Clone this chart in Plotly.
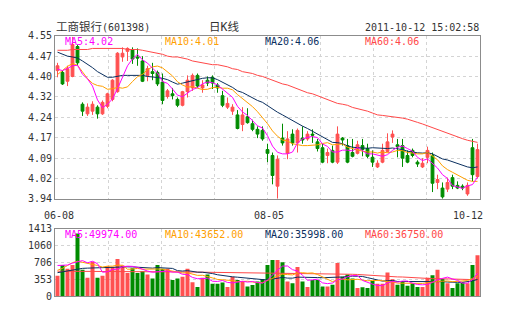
import numpy as np
import plotly.graph_objects as go

# ---- ICBC (601398) daily bars, 2011-06-08 .. 2011-10-12 ----
opens = [4.420, 4.413, 4.380, 4.398, 4.510, 4.294, 4.258, 4.268, 4.283, 4.258,
         4.286, 4.312, 4.341, 4.471, 4.492, 4.499, 4.471, 4.456, 4.402, 4.416,
         4.413, 4.377, 4.323, 4.333, 4.312, 4.290, 4.341, 4.355, 4.402, 4.355,
         4.384, 4.395, 4.366, 4.326, 4.283, 4.268, 4.254, 4.218, 4.247, 4.221,
         4.200, 4.196, 4.124, 4.102, 3.987, 4.167, 4.110, 4.182, 4.149, 4.167,
         4.164, 4.182, 4.153, 4.131, 4.102, 4.121, 4.077, 4.167, 4.139, 4.113,
         4.110, 4.139, 4.128, 4.095, 4.059, 4.077, 4.117, 4.171, 4.142, 4.139,
         4.102, 4.121, 4.077, 4.059, 4.095, 4.102, 4.001, 3.980, 3.976, 4.019,
         3.990, 3.987, 3.958, 4.131, 4.023]
highs = [4.449, 4.420, 4.438, 4.546, 4.518, 4.301, 4.297, 4.305, 4.290, 4.308,
         4.337, 4.388, 4.489, 4.507, 4.507, 4.507, 4.503, 4.474, 4.438, 4.449,
         4.420, 4.409, 4.351, 4.355, 4.319, 4.344, 4.402, 4.409, 4.409, 4.384,
         4.398, 4.402, 4.373, 4.344, 4.319, 4.294, 4.272, 4.283, 4.279, 4.236,
         4.211, 4.211, 4.146, 4.113, 4.102, 4.221, 4.193, 4.200, 4.203, 4.211,
         4.193, 4.200, 4.164, 4.146, 4.128, 4.139, 4.211, 4.171, 4.164, 4.164,
         4.157, 4.164, 4.146, 4.121, 4.084, 4.146, 4.185, 4.196, 4.164, 4.164,
         4.121, 4.128, 4.084, 4.092, 4.135, 4.113, 4.030, 4.001, 4.019, 4.030,
         4.005, 3.994, 4.001, 4.164, 4.146]
lows = [4.395, 4.366, 4.362, 4.395, 4.438, 4.250, 4.250, 4.254, 4.240, 4.254,
        4.279, 4.305, 4.337, 4.453, 4.456, 4.445, 4.438, 4.377, 4.380, 4.384,
        4.362, 4.294, 4.315, 4.312, 4.283, 4.286, 4.319, 4.344, 4.355, 4.337,
        4.362, 4.351, 4.337, 4.283, 4.276, 4.254, 4.200, 4.193, 4.221, 4.193,
        4.167, 4.157, 4.077, 3.994, 3.940, 4.139, 4.088, 4.139, 4.113, 4.146,
        4.157, 4.149, 4.117, 4.073, 4.073, 4.073, 4.070, 4.139, 4.073, 4.095,
        4.106, 4.099, 4.092, 4.059, 4.055, 4.073, 4.113, 4.149, 4.095, 4.059,
        4.073, 4.095, 4.059, 4.055, 4.073, 3.965, 3.976, 3.940, 3.965, 3.976,
        3.976, 3.972, 3.951, 4.005, 4.016]
closes = [4.438, 4.370, 4.427, 4.518, 4.449, 4.268, 4.283, 4.294, 4.258, 4.301,
          4.333, 4.384, 4.485, 4.485, 4.503, 4.463, 4.467, 4.380, 4.427, 4.409,
          4.370, 4.308, 4.344, 4.326, 4.290, 4.341, 4.384, 4.402, 4.362, 4.366,
          4.373, 4.373, 4.355, 4.290, 4.297, 4.283, 4.203, 4.254, 4.225, 4.200,
          4.182, 4.164, 4.110, 4.027, 4.088, 4.149, 4.164, 4.149, 4.196, 4.160,
          4.182, 4.178, 4.128, 4.077, 4.113, 4.077, 4.182, 4.160, 4.077, 4.099,
          4.142, 4.124, 4.099, 4.077, 4.073, 4.121, 4.153, 4.182, 4.135, 4.092,
          4.077, 4.102, 4.070, 4.073, 4.121, 3.998, 4.012, 3.947, 4.001, 3.987,
          3.980, 3.980, 3.990, 4.030, 4.124]

# price moving averages
ma5 = [4.425, 4.420, 4.428, 4.438, 4.440, 4.406, 4.389, 4.362, 4.310, 4.281,
       4.294, 4.314, 4.352, 4.398, 4.438, 4.464, 4.481, 4.460, 4.448, 4.429,
       4.411, 4.379, 4.372, 4.351, 4.328, 4.322, 4.337, 4.349, 4.356, 4.371,
       4.377, 4.375, 4.366, 4.351, 4.338, 4.320, 4.286, 4.265, 4.252, 4.233,
       4.213, 4.205, 4.176, 4.137, 4.114, 4.108, 4.108, 4.115, 4.149, 4.164,
       4.170, 4.173, 4.169, 4.145, 4.136, 4.115, 4.115, 4.122, 4.122, 4.119,
       4.132, 4.120, 4.108, 4.108, 4.103, 4.099, 4.105, 4.121, 4.133, 4.137,
       4.128, 4.118, 4.095, 4.083, 4.089, 4.073, 4.055, 4.030, 4.016, 3.989,
       3.985, 3.979, 3.988, 3.993, 4.021]
ma10 = [4.405, 4.420, 4.436, 4.446, 4.440, 4.415, 4.390, 4.372, 4.364, 4.361,
        4.350, 4.352, 4.357, 4.354, 4.359, 4.379, 4.397, 4.406, 4.423, 4.434,
        4.437, 4.430, 4.416, 4.400, 4.378, 4.366, 4.358, 4.360, 4.354, 4.349,
        4.350, 4.356, 4.357, 4.354, 4.354, 4.348, 4.330, 4.316, 4.302, 4.285,
        4.266, 4.245, 4.221, 4.194, 4.174, 4.160, 4.156, 4.146, 4.143, 4.139,
        4.139, 4.140, 4.142, 4.147, 4.150, 4.142, 4.144, 4.145, 4.133, 4.127,
        4.123, 4.118, 4.115, 4.115, 4.111, 4.115, 4.112, 4.115, 4.121, 4.120,
        4.113, 4.111, 4.108, 4.108, 4.113, 4.100, 4.086, 4.063, 4.049, 4.039,
        4.029, 4.017, 4.009, 4.005, 4.005]
ma20 = [4.489, 4.481, 4.474, 4.471, 4.467, 4.456, 4.445, 4.431, 4.416, 4.406,
        4.395, 4.395, 4.398, 4.402, 4.402, 4.402, 4.402, 4.402, 4.398, 4.397,
        4.394, 4.391, 4.386, 4.377, 4.369, 4.373, 4.378, 4.383, 4.388, 4.391,
        4.393, 4.393, 4.386, 4.377, 4.366, 4.357, 4.344, 4.338, 4.328, 4.317,
        4.308, 4.301, 4.289, 4.274, 4.264, 4.254, 4.243, 4.231, 4.222, 4.212,
        4.203, 4.193, 4.181, 4.171, 4.162, 4.151, 4.150, 4.146, 4.138, 4.133,
        4.131, 4.129, 4.129, 4.131, 4.130, 4.129, 4.128, 4.130, 4.127, 4.124,
        4.118, 4.114, 4.112, 4.111, 4.112, 4.108, 4.099, 4.089, 4.085, 4.079,
        4.071, 4.064, 4.059, 4.056, 4.059]
ma60 = [4.496, 4.496, 4.496, 4.499, 4.499, 4.499, 4.499, 4.503, 4.503, 4.503,
        4.503, 4.503, 4.503, 4.503, 4.499, 4.499, 4.499, 4.496, 4.492, 4.489,
        4.485, 4.481, 4.474, 4.471, 4.471, 4.467, 4.463, 4.456, 4.453, 4.449,
        4.445, 4.442, 4.442, 4.438, 4.434, 4.427, 4.424, 4.416, 4.413, 4.409,
        4.402, 4.398, 4.391, 4.384, 4.377, 4.370, 4.366, 4.359, 4.351, 4.344,
        4.337, 4.333, 4.326, 4.319, 4.312, 4.305, 4.297, 4.294, 4.290, 4.282,
        4.278, 4.273, 4.268, 4.261, 4.254, 4.252, 4.250, 4.248, 4.246, 4.242,
        4.238, 4.233, 4.226, 4.220, 4.213, 4.206, 4.198, 4.191, 4.184, 4.177,
        4.170, 4.165, 4.159, 4.154, 4.151]

# volume (axis units) and its moving averages
volumes = [424, 653, 572, 653, 1312, 552, 384, 720, 384, 424,
           626, 606, 774, 640, 485, 585, 485, 518, 451, 370,
           653, 572, 572, 336, 370, 404, 572, 289, 188, 384,
           451, 256, 256, 283, 188, 404, 336, 316, 202, 232,
           303, 357, 653, 754, 754, 707, 303, 269, 606, 303,
           188, 336, 336, 202, 202, 236, 693, 404, 451, 370,
           168, 182, 168, 316, 256, 256, 491, 350, 236, 316,
           215, 269, 188, 188, 384, 437, 552, 357, 269, 168,
           269, 283, 269, 653, 855]
vma5 = [640, 640, 650, 690, 715, 743, 696, 729, 678, 499,
        509, 556, 565, 612, 626, 622, 601, 561, 524, 499,
        510, 524, 525, 502, 502, 455, 451, 390, 363, 367,
        373, 310, 306, 326, 285, 276, 296, 309, 293, 304,
        284, 270, 335, 443, 544, 627, 630, 552, 524, 435,
        331, 339, 353, 276, 260, 273, 343, 357, 404, 431,
        428, 327, 283, 249, 222, 218, 276, 307, 293, 314,
        314, 269, 242, 235, 245, 285, 343, 377, 397, 357,
        330, 269, 272, 343, 479]
vma10 = [540, 580, 640, 700, 730, 710, 685, 660, 640, 607,
         626, 626, 647, 645, 562, 565, 579, 563, 568, 562,
         566, 562, 543, 513, 501, 482, 487, 458, 433, 435,
         414, 380, 348, 344, 326, 324, 303, 308, 310, 295,
         280, 283, 322, 368, 424, 456, 450, 443, 483, 489,
         479, 485, 452, 400, 347, 302, 341, 355, 340, 345,
         351, 335, 320, 326, 326, 323, 301, 295, 271, 268,
         266, 272, 274, 264, 279, 299, 306, 310, 316, 301,
         307, 306, 324, 370, 418]
vma20 = [490, 510, 530, 550, 570, 580, 585, 590, 595, 600,
         605, 610, 615, 615, 612, 610, 600, 595, 590, 585,
         596, 594, 595, 579, 532, 524, 533, 510, 500, 499,
         490, 471, 446, 429, 414, 403, 395, 383, 371, 365,
         347, 332, 335, 356, 375, 390, 376, 375, 396, 392,
         380, 384, 387, 384, 386, 379, 396, 399, 412, 417,
         415, 410, 386, 363, 337, 313, 321, 325, 305, 306,
         308, 304, 297, 295, 303, 311, 304, 302, 294, 284,
         287, 289, 299, 317, 348]
vma60 = [520, 520, 519, 519, 518, 518, 517, 517, 516, 516,
         515, 515, 514, 514, 513, 513, 512, 512, 511, 511,
         510, 509, 508, 507, 506, 505, 504, 503, 502, 501,
         500, 499, 498, 497, 496, 495, 494, 493, 492, 491,
         490, 489, 488, 487, 486, 485, 484, 483, 482, 481,
         479, 477, 475, 473, 471, 469, 466, 463, 460, 456,
         452, 445, 439, 433, 414, 409, 410, 403, 401, 399,
         392, 386, 377, 369, 367, 364, 365, 361, 359, 355,
         349, 344, 340, 345, 353]

price_ticks = ["3.94", "4.02", "4.09", "4.17", "4.24", "4.32", "4.40", "4.47", "4.55"]
vol_ticks = ["0", "353", "706", "1060", "1413"]
date_labels = [(0, "06-08"), (42, "08-05"), (84, "10-12")]

UP = "#ff5050"
DOWN = "#008c00"
C5, C10, C20, C60 = "#ff00ff", "#ffa000", "#0a2f5f", "#ff4848"
GRID = "#d4d4d4"
FRAME = "#8c8c8c"
MONO = "DejaVu Sans Mono, Noto Sans CJK SC, monospace"

W, H = 505, 330
n = len(closes)
idx = list(range(n))

fig = go.Figure()
fig.add_trace(go.Candlestick(
    x=idx, open=opens, high=highs, low=lows, close=closes,
    increasing=dict(line=dict(color=UP, width=1), fillcolor=UP),
    decreasing=dict(line=dict(color=DOWN, width=1), fillcolor=DOWN),
    whiskerwidth=0, xaxis="x", yaxis="y", hoverinfo="skip"))
for s, col in [(ma60, C60), (ma20, C20), (ma10, C10), (ma5, C5)]:
    fig.add_trace(go.Scatter(x=idx, y=s, mode="lines", line=dict(color=col, width=1),
                             xaxis="x", yaxis="y", hoverinfo="skip"))

bar_cols = [UP if c >= o else DOWN for o, c in zip(opens, closes)]
fig.add_trace(go.Bar(x=idx, y=volumes, marker=dict(color=bar_cols, line=dict(width=0)),
                     width=0.8, xaxis="x2", yaxis="y2", hoverinfo="skip"))
for s, col in [(vma60, C60), (vma20, C20), (vma10, C10), (vma5, C5)]:
    fig.add_trace(go.Scatter(x=idx, y=s, mode="lines", line=dict(color=col, width=1),
                             xaxis="x2", yaxis="y2", hoverinfo="skip"))

xr = [-0.5, n - 0.5]
xgrid = list(np.linspace(xr[0], xr[1], 9))
xdom = [55 / W, 480 / W]
common_x = dict(range=xr, tickvals=xgrid, showticklabels=False, ticks="",
                showgrid=True, gridcolor=GRID, griddash="3px,3px", gridwidth=1,
                showline=True, linecolor=FRAME, linewidth=1, mirror=True,
                zeroline=False, fixedrange=True)
common_y = dict(showgrid=True, gridcolor=GRID, griddash="3px,3px", gridwidth=1,
                showline=True, linecolor=FRAME, linewidth=1, mirror=True,
                zeroline=False, ticks="", tickfont=dict(family=MONO, size=10, color="#333"),
                fixedrange=True)

fig.update_layout(
    width=W, height=H, autosize=False,
    margin=dict(l=0, r=0, t=0, b=0),
    paper_bgcolor="white", plot_bgcolor="white",
    showlegend=False, boxgap=0.2, bargap=0.2,
    xaxis=dict(domain=xdom, anchor="y", rangeslider=dict(visible=False), **common_x),
    xaxis2=dict(domain=xdom, anchor="y2", **common_x),
    yaxis=dict(domain=[1 - 200 / H, 1 - 31 / H], range=[3.94, 4.55],
               tickvals=list(np.linspace(3.94, 4.55, 9)), ticktext=price_ticks,
               anchor="x", **common_y),
    yaxis2=dict(domain=[1 - 301 / H, 1 - 231 / H], range=[0, 1413],
                tickvals=list(np.linspace(0, 1413, 5)), ticktext=vol_ticks,
                anchor="x2", **common_y),
)


def txt(x, y, s, color="#333", anchor="left", xref="paper", xshift=0):
    fig.add_annotation(x=x if xref == "x" else x / W, y=1 - y / H, xref=xref, yref="paper",
                       text=s, showarrow=False, xanchor=anchor, yanchor="middle",
                       xshift=xshift, font=dict(family=MONO, size=10, color=color))


txt(54, 22, '<span style="font-size:11.5px">工商银行</span>(601398)')
txt(207, 22, '<span style="font-size:11.5px">日K线</span>')
txt(481, 22, "2011-10-12 15:02:58", anchor="right")
txt(63, 37, "MA5:4.02", C5)
txt(163, 37, "MA10:4.01", C10)
txt(263, 37, "MA20:4.06", C20)
txt(363, 37, "MA60:4.06", C60)
txt(63, 237, "MA5:49974.00", C5)
txt(163, 237, "MA10:43652.00", C10)
txt(263, 237, "MA20:35998.00", C20)
txt(363, 237, "MA60:36750.00", C60)
for i, lab in date_labels:
    last = i == n - 1
    txt(i, 217, lab, anchor="right" if last else "center", xref="x", xshift=7 if last else 1)

fig.write_html("out.html")
